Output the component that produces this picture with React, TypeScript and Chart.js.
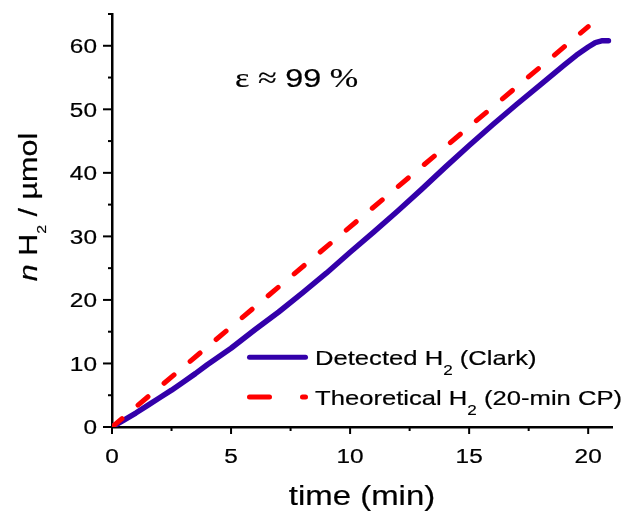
import React, { useEffect, useRef } from "react";
import { Chart, registerables } from "chart.js";

Chart.register(...registerables);

// ---------------- data ----------------
const detectedTime = [0, 0.5, 1, 1.5, 2, 2.5, 3, 3.5, 4, 5, 6, 7, 8, 9, 10, 11, 12, 13, 14, 15, 16, 17, 18, 19, 19.5, 20, 20.3, 20.6, 20.85];
const detectedH2 = [0, 1.1, 2.2, 3.4, 4.6, 5.8, 7.1, 8.4, 9.8, 12.4, 15.3, 18.1, 21.1, 24.2, 27.5, 30.7, 34.0, 37.4, 40.9, 44.3, 47.6, 50.8, 53.9, 57.0, 58.5, 59.8, 60.5, 60.8, 60.8];
const theoreticalTime = [0, 20];
const theoreticalH2 = [0, 63];

const xMajorTicks = [0, 5, 10, 15, 20];
const xMinorTicks = [2.5, 7.5, 12.5, 17.5];
const yMajorTicks = [0, 10, 20, 30, 40, 50, 60];
const yMinorTicks = [5, 15, 25, 35, 45, 55, 65];
const xTickLabels = ["0", "5", "10", "15", "20"];
const yTickLabels = ["0", "10", "20", "30", "40", "50", "60"];

const seriesNames = ["Detected H₂ (Clark)", "Theoretical H₂ (20-min CP)"];
const xAxisTitle = "time (min)";
const yAxisTitleItalic = "n";
const yAxisTitleRest = " H₂ / µmol";
const annotationText = "ε ≈ 99 %";

// ---------------- styling ----------------
const SANS = '"Liberation Sans", Arial, Helvetica, sans-serif';
const SERIF = '"Liberation Serif", "Times New Roman", serif';
const SX = 1.22; // horizontal text stretch seen in the reference
const BLUE = "#3300aa";
const RED = "#ff0000";

type Seg = { t: string; font: string; dy?: number };

function drawRun(ctx: CanvasRenderingContext2D, segs: Seg[], x: number, y: number, sx: number, align: "left" | "center" | "right") {
  let total = 0;
  const widths = segs.map((s) => {
    ctx.font = s.font;
    const w = ctx.measureText(s.t).width;
    total += w;
    return w;
  });
  ctx.save();
  ctx.translate(x, y);
  ctx.scale(sx, 1);
  let cx = align === "left" ? 0 : align === "center" ? -total / 2 : -total;
  ctx.textAlign = "left";
  ctx.textBaseline = "alphabetic";
  ctx.lineWidth = 0.2;
  ctx.lineJoin = "round";
  segs.forEach((s, i) => {
    ctx.font = s.font;
    ctx.fillText(s.t, cx, s.dy || 0);
    ctx.strokeText(s.t, cx, s.dy || 0);
    cx += widths[i];
  });
  ctx.restore();
}

function subSegs(text: string, font: string, subFont: string, dy: number): Seg[] {
  const parts = text.split("₂");
  const out: Seg[] = [];
  parts.forEach((p, i) => {
    if (i > 0) out.push({ t: "2", font: subFont, dy });
    if (p) out.push({ t: p, font });
  });
  return out;
}

function mixedSegs(text: string, sansFont: string, serifFont: string): Seg[] {
  const out: Seg[] = [];
  for (const ch of text) {
    const font = /[0-9]/.test(ch) ? sansFont : serifFont;
    const last = out[out.length - 1];
    if (last && last.font === font) last.t += ch;
    else out.push({ t: ch, font });
  }
  return out;
}

const decorPlugin = {
  id: "decor",
  afterDraw(chart: any) {
    const ctx: CanvasRenderingContext2D = chart.ctx;
    const xs = chart.scales.x;
    const ys = chart.scales.y;
    const { left, bottom } = chart.chartArea;
    ctx.save();
    ctx.strokeStyle = "#000";
    ctx.fillStyle = "#000";
    ctx.lineWidth = 2;
    ctx.lineCap = "butt";
    const seg = (x1: number, y1: number, x2: number, y2: number) => {
      ctx.beginPath();
      ctx.moveTo(x1, y1);
      ctx.lineTo(x2, y2);
      ctx.stroke();
    };
    xMajorTicks.forEach((v) => {
      const px = xs.getPixelForValue(v);
      seg(px, bottom, px, bottom + 7);
    });
    xMinorTicks.forEach((v) => {
      const px = xs.getPixelForValue(v);
      seg(px, bottom, px, bottom + 4);
    });
    yMajorTicks.forEach((v) => {
      const py = ys.getPixelForValue(v);
      seg(left - 9, py, left, py);
    });
    yMinorTicks.forEach((v) => {
      const py = ys.getPixelForValue(v);
      seg(left - 4, py, left, py);
    });

    // tick labels
    const tickFont = `20px ${SANS}`;
    xTickLabels.forEach((lab, i) => {
      drawRun(ctx, [{ t: lab, font: tickFont }], xs.getPixelForValue(xMajorTicks[i]), 463, SX, "center");
    });
    yTickLabels.forEach((lab, i) => {
      drawRun(ctx, [{ t: lab, font: tickFont }], 97, ys.getPixelForValue(yMajorTicks[i]) + 7.2, SX, "right");
    });

    // axis titles
    drawRun(ctx, [{ t: xAxisTitle, font: `27px ${SANS}` }], (left + chart.chartArea.right) / 2, 505, SX, "center");
    ctx.save();
    ctx.translate(37, 207);
    ctx.rotate(-Math.PI / 2);
    drawRun(
      ctx,
      [{ t: yAxisTitleItalic, font: `italic 25px ${SANS}` }, ...subSegs(yAxisTitleRest, `25px ${SANS}`, `13px ${SANS}`, 9)],
      0,
      0,
      SX,
      "center"
    );
    ctx.restore();

    // annotation
    drawRun(ctx, mixedSegs(annotationText, `26.5px ${SANS}`, `28px ${SERIF}`), 235, 87, SX, "left");

    // legend
    const rows = [357.3, 397];
    const dsets = chart.data.datasets;
    seriesNames.forEach((name, i) => {
      const ds = dsets[i];
      const y = rows[i];
      ctx.save();
      ctx.strokeStyle = ds.borderColor;
      ctx.lineWidth = 5;
      ctx.lineCap = "round";
      if (ds.borderDash && ds.borderDash.length) {
        ctx.setLineDash([20, 33]);
      }
      seg(249.5, y, 305.5, y);
      ctx.restore();
      drawRun(ctx, subSegs(name, `21px ${SANS}`, `14px ${SANS}`, 10), 315, y + 7.7, SX, "left");
    });
    ctx.restore();
  },
};

export default function App() {
  const canvasRef = useRef<HTMLCanvasElement | null>(null);

  useEffect(() => {
    const canvas = canvasRef.current;
    if (!canvas) return;
    const chart = new Chart(canvas, {
      type: "line",
      data: {
        datasets: [
          {
            label: seriesNames[0],
            data: detectedTime.map((t, i) => ({ x: t, y: detectedH2[i] })),
            borderColor: BLUE,
            backgroundColor: BLUE,
            borderWidth: 5.5,
            pointRadius: 0,
            tension: 0,
            borderCapStyle: "round",
            borderJoinStyle: "round",
            order: 2,
          },
          {
            label: seriesNames[1],
            data: theoreticalTime.map((t, i) => ({ x: t, y: theoreticalH2[i] })),
            borderColor: RED,
            backgroundColor: RED,
            borderWidth: 5,
            borderDash: [13, 21],
            borderCapStyle: "round",
            pointRadius: 0,
            tension: 0,
            order: 1,
          },
        ],
      },
      options: {
        animation: false,
        responsive: true,
        maintainAspectRatio: false,
        layout: { padding: { left: 0, right: 11, top: 14, bottom: 0 } },
        plugins: { legend: { display: false }, tooltip: { enabled: false }, title: { display: false } },
        scales: {
          x: {
            type: "linear",
            min: 0,
            max: 21,
            grid: { display: false },
            border: { display: true, color: "#000", width: 2.5 },
            ticks: { display: false },
            afterFit: (s: any) => {
              s.height = 88;
            },
          },
          y: {
            type: "linear",
            min: 0,
            max: 65,
            grid: { display: false },
            border: { display: true, color: "#000", width: 2.5 },
            ticks: { display: false },
            afterFit: (s: any) => {
              s.width = 112;
            },
          },
        },
      } as any,
      plugins: [decorPlugin],
    });
    return () => chart.destroy();
  }, []);

  return (
    <div style={{ position: "fixed", left: 0, top: 0, width: 623, height: 515, background: "#fff" }}>
      <canvas ref={canvasRef} />
    </div>
  );
}
